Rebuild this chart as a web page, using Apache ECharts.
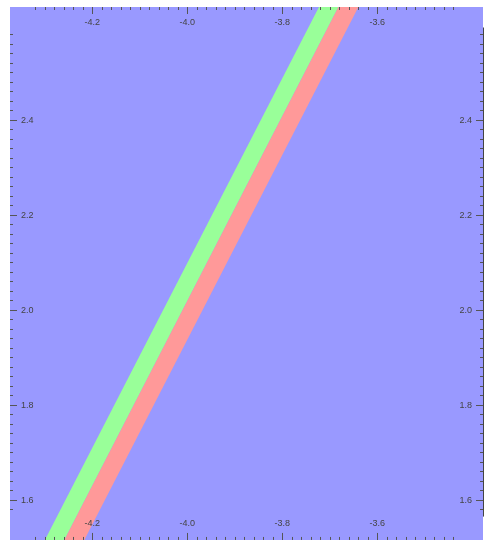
<!DOCTYPE html>
<html>
<head>
<meta charset="utf-8">
<script src="https://cdn.jsdelivr.net/npm/echarts@6/dist/echarts.min.js"></script>
<style>
  html, body { margin: 0; padding: 0; background: #ffffff; }
  #chart { width: 490px; height: 540px; }
</style>
</head>
<body>
<div id="chart"></div>
<script>
// Plot window (data units)
const xRange = [-4.3733, -3.3775];
const yRange = [1.516, 2.638];

// Major tick ranges and minor tick ranges
const xMajor = [-4.2, -3.6];
const yMajor = [1.6, 2.4];
const xMinor = [-4.32, -3.44];
const yMinor = [1.58, 2.58];
const rightFrame = [1.566, 2.594];

// Band boundaries: x positions of each edge at the two y levels
const bandY = [1.5, 2.7];
const greenLeft = [-4.308, -3.691];
const greenRight = [-4.267, -3.650];
const redRight = [-4.225, -3.608];

const bands = [
  { name: 'green', left: greenLeft, right: greenRight, color: '#99ff99' },
  { name: 'red', left: greenRight, right: redRight, color: '#ff9999' }
];

// Pixel mapping of the plot frame
const PX = 475;              // pixels per data unit, both axes
const frameLeft = 10, frameTop = 7;
const xPix = v => frameLeft + (v - xRange[0]) * PX;
const yPix = v => frameTop + (yRange[1] - v) * PX;

const labelStyle = {
  fontFamily: 'Liberation Sans, Arial, sans-serif',
  fontSize: 9,
  color: '#444'
};
const fmt = v => v.toFixed(1);
const tickColor = '#555';
const AXIS_Z = 10;           // frame ticks and labels sit above the bands

const grids = [];
const xAxes = [];
const yAxes = [];

function hiddenAxis(gridIndex, range) {
  return { type: 'value', gridIndex, min: range[0], max: range[1], show: false };
}

// 0: plot area
grids.push({ left: frameLeft, top: frameTop, width: (xRange[1] - xRange[0]) * PX,
  height: (yRange[1] - yRange[0]) * PX, show: true, backgroundColor: '#9999ff', borderWidth: 0 });
xAxes.push(hiddenAxis(0, xRange));
yAxes.push(hiddenAxis(0, yRange));

// 1: x minor ticks
grids.push({ left: xPix(xMinor[0]), top: frameTop, width: (xMinor[1] - xMinor[0]) * PX,
  height: (yRange[1] - yRange[0]) * PX });
['top', 'bottom'].forEach(pos => xAxes.push({
  type: 'value', gridIndex: 1, position: pos, z: AXIS_Z, min: xMinor[0], max: xMinor[1], interval: 0.02,
  axisLine: { show: false }, splitLine: { show: false }, axisLabel: { show: false },
  axisTick: { show: true, inside: true, length: 3, lineStyle: { color: tickColor, width: 1 } }
}));
yAxes.push(hiddenAxis(1, yRange));

// 2: x major ticks with labels
grids.push({ left: xPix(xMajor[0]), top: frameTop, width: (xMajor[1] - xMajor[0]) * PX,
  height: (yRange[1] - yRange[0]) * PX });
['top', 'bottom'].forEach(pos => xAxes.push({
  type: 'value', gridIndex: 2, position: pos, z: AXIS_Z, min: xMajor[0], max: xMajor[1], interval: 0.2,
  axisLine: { show: false }, splitLine: { show: false },
  axisLabel: Object.assign({ show: true, inside: true, margin: pos === 'top' ? 11 : 12, formatter: fmt }, labelStyle),
  axisTick: { show: true, inside: true, length: 7, lineStyle: { color: tickColor, width: 1 } }
}));
yAxes.push(hiddenAxis(2, yRange));

// 3: y minor ticks
grids.push({ left: frameLeft, top: yPix(yMinor[1]), width: (xRange[1] - xRange[0]) * PX,
  height: (yMinor[1] - yMinor[0]) * PX });
xAxes.push(hiddenAxis(3, xRange));
['left', 'right'].forEach(pos => yAxes.push({
  type: 'value', gridIndex: 3, position: pos, z: AXIS_Z, min: yMinor[0], max: yMinor[1], interval: 0.02,
  axisLine: { show: false }, splitLine: { show: false }, axisLabel: { show: false },
  axisTick: { show: true, inside: true, length: 3, lineStyle: { color: tickColor, width: 1 } }
}));

// 4: y major ticks with labels
grids.push({ left: frameLeft, top: yPix(yMajor[1]), width: (xRange[1] - xRange[0]) * PX,
  height: (yMajor[1] - yMajor[0]) * PX });
xAxes.push(hiddenAxis(4, xRange));
['left', 'right'].forEach(pos => yAxes.push({
  type: 'value', gridIndex: 4, position: pos, z: AXIS_Z, min: yMajor[0], max: yMajor[1], interval: 0.2,
  axisLine: { show: false }, splitLine: { show: false },
  axisLabel: Object.assign({ show: true, inside: true, margin: 11, formatter: fmt }, labelStyle),
  axisTick: { show: true, inside: true, length: 7, lineStyle: { color: tickColor, width: 1 } }
}));

// 5: right frame line
grids.push({ left: frameLeft, top: yPix(rightFrame[1]), width: (xRange[1] - xRange[0]) * PX,
  height: (rightFrame[1] - rightFrame[0]) * PX });
xAxes.push(hiddenAxis(5, xRange));
yAxes.push({
  type: 'value', gridIndex: 5, position: 'right', z: AXIS_Z, min: rightFrame[0], max: rightFrame[1],
  axisLine: { show: true, lineStyle: { color: '#444', width: 1 } },
  axisTick: { show: false }, axisLabel: { show: false }, splitLine: { show: false }
});

grids.forEach(g => { g.containLabel = false; g.outerBoundsMode = 'none'; });

const chart = echarts.init(document.getElementById('chart'), null, { renderer: 'canvas' });
chart.setOption({
  animation: false,
  grid: grids,
  xAxis: xAxes,
  yAxis: yAxes,
  series: [{
    type: 'custom',
    xAxisIndex: 0,
    yAxisIndex: 0,
    clip: true,
    z: 2,
    data: bands.map((b, i) => [i]),
    renderItem: function (params, api) {
      const b = bands[params.dataIndex];
      const pts = [
        api.coord([b.left[0], bandY[0]]),
        api.coord([b.right[0], bandY[0]]),
        api.coord([b.right[1], bandY[1]]),
        api.coord([b.left[1], bandY[1]])
      ];
      return {
        type: 'polygon',
        shape: { points: pts },
        style: { fill: b.color, stroke: null }
      };
    }
  }]
});
</script>
</body>
</html>
